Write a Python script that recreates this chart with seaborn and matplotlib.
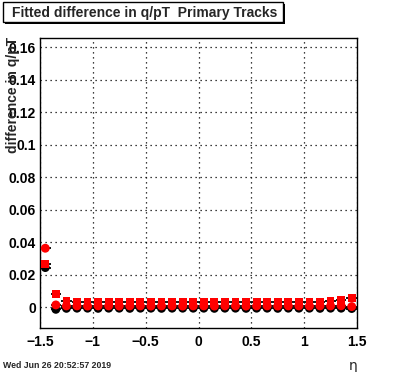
import matplotlib
matplotlib.use("Agg")
import matplotlib.pyplot as plt
import seaborn as sns
import pandas as pd
from matplotlib.ticker import MultipleLocator, FuncFormatter
from matplotlib.patches import Rectangle

eta = [-1.45, -1.35, -1.25, -1.15, -1.05, -0.95, -0.85, -0.75, -0.65, -0.55,
       -0.45, -0.35, -0.25, -0.15, -0.05, 0.05, 0.15, 0.25, 0.35, 0.45,
       0.55, 0.65, 0.75, 0.85, 0.95, 1.05, 1.15, 1.25, 1.35, 1.45]

black_circ = [0.0245, -0.0012, -0.0006, -0.0005, -0.0005, -0.0006, -0.0005, -0.0005, -0.0006, -0.0005,
              -0.0005, -0.0006, -0.0005, -0.0005, -0.0005, -0.0005, -0.0006, -0.0005, -0.0005, -0.0006,
              -0.0005, -0.0005, -0.0006, -0.0005, -0.0005, -0.0005, -0.0006, -0.0005, -0.0005, -0.0007]
red_circ = [0.0364, 0.0015, 0.0009, 0.0009, 0.0008, 0.0009, 0.0009, 0.0008, 0.0009, 0.0009,
            0.0008, 0.0009, 0.0009, 0.0008, 0.0009, 0.0009, 0.0008, 0.0009, 0.0009, 0.0008,
            0.0009, 0.0009, 0.0008, 0.0009, 0.0009, 0.0008, 0.0009, 0.0009, 0.0010, 0.0005]
red_sq = [0.0266, 0.0081, 0.0038, 0.0036, 0.0035, 0.0035, 0.0036, 0.0035, 0.0035, 0.0036,
          0.0035, 0.0035, 0.0036, 0.0035, 0.0035, 0.0035, 0.0036, 0.0035, 0.0035, 0.0036,
          0.0035, 0.0035, 0.0036, 0.0035, 0.0035, 0.0036, 0.0036, 0.0037, 0.0043, 0.0060]

title = "Fitted difference in q/pT  Primary Tracks"
ylab = "difference in q/pT"
stamp = "Wed Jun 26 20:52:57 2019"

sns.set_style("white")
plt.rcParams['font.family'] = ['Liberation Sans', 'DejaVu Sans']

fig = plt.figure(figsize=(3.96, 3.72), dpi=100)
ax = fig.add_axes([40 / 396, 1 - 328 / 372, 317 / 396, 290 / 372])

series = [("black", "o", black_circ, 6.4), ("red", "o", red_circ, 6.4), ("red", "s", red_sq, 5.6)]
for i, (col, mk, vals, ms) in enumerate(series):
    df = pd.DataFrame({"eta": eta, "val": vals})
    ax.errorbar(df["eta"], df["val"], xerr=0.05, fmt="none", ecolor="black", elinewidth=1.3,
                capsize=0, zorder=3 + 2 * i)
    sns.scatterplot(data=df, x="eta", y="val", ax=ax, color=col, marker=mk, s=ms ** 2,
                    edgecolor="none", linewidth=0, zorder=4 + 2 * i, legend=False)

ax.set_xlim(-1.5, 1.5)
ax.set_ylim(-0.0127, 0.1658)
ax.xaxis.set_major_locator(MultipleLocator(0.5))
ax.xaxis.set_minor_locator(MultipleLocator(0.1))
ax.yaxis.set_major_locator(MultipleLocator(0.02))
ax.yaxis.set_minor_locator(MultipleLocator(0.005))


def fmt_x(v, pos):
    s = "%g" % round(v, 3)
    return s.replace("-", "\u2212")


def fmt_y(v, pos):
    return "%g" % round(v, 4)


ax.xaxis.set_major_formatter(FuncFormatter(fmt_x))
ax.yaxis.set_major_formatter(FuncFormatter(fmt_y))
ax.tick_params(which="both", direction="in", top=False, right=False, colors="black",
               labelsize=10, width=1)
ax.tick_params(which="major", length=9)
ax.tick_params(which="minor", length=4.5)
ax.tick_params(axis="x", pad=5)
ax.tick_params(axis="y", pad=3)
for lab in ax.get_xticklabels() + ax.get_yticklabels():
    lab.set_fontweight("bold")

ax.grid(True, which="major", color="black", linestyle=(0, (1, 3)), linewidth=0.9)
for sp in ax.spines.values():
    sp.set_color("black")
    sp.set_linewidth(1)

ax.set_xlabel("")
ax.set_ylabel("")
fig.text(13 / 396, 1 - 37 / 372, ylab, rotation=90, ha="center", va="top",
         fontsize=10, fontweight="bold")
fig.text(357 / 396, 1 - 366 / 372, "\u03b7", ha="right", va="center", fontsize=10,
         family="DejaVu Sans")
fig.text(3 / 396, 1 - 366 / 372, stamp, ha="left", va="center", fontsize=6.3,
         fontweight="bold")

# title box with shadow
fig.patches.append(Rectangle((5 / 396, 1 - 24 / 372), 280 / 396, 20 / 372,
                             transform=fig.transFigure, facecolor="black", edgecolor="none"))
fig.patches.append(Rectangle((3 / 396, 1 - 22 / 372), 280 / 396, 20 / 372,
                             transform=fig.transFigure, facecolor="white", edgecolor="black",
                             linewidth=1))
fig.text(12 / 396, 1 - 12.5 / 372, title, ha="left", va="center", fontsize=10,
         fontweight="bold")

fig.savefig("out.png", dpi=100)
